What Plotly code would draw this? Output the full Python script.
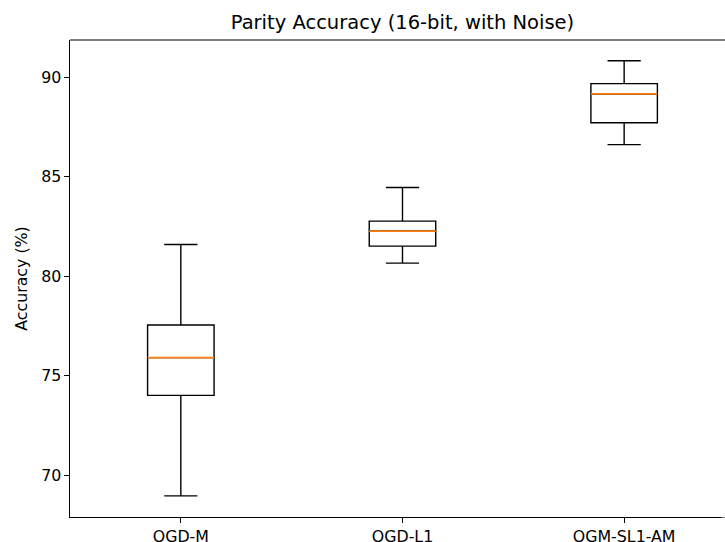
import plotly.graph_objects as go

categories = ["OGD-M", "OGD-L1", "OGM-SL1-AM"]
lower_whisker = [68.95, 80.65, 86.6]
q1 = [74.0, 81.5, 87.7]
median = [75.9, 82.26, 89.15]
q3 = [77.54, 82.76, 89.67]
upper_whisker = [81.58, 84.45, 90.82]
y_ticks = [70, 75, 80, 85, 90]

font = "DejaVu Sans"

fig = go.Figure()
fig.add_trace(go.Box(
    x=categories, q1=q1, median=median, q3=q3,
    lowerfence=lower_whisker, upperfence=upper_whisker,
    width=0.3, whiskerwidth=0.5,
    line=dict(color="black", width=1.4),
    fillcolor="rgba(0,0,0,0)",
    boxpoints=False, showlegend=False, hoverinfo="skip",
))
fig.add_trace(go.Box(
    x=categories, q1=median, median=median, q3=median,
    lowerfence=median, upperfence=median,
    width=0.3, whiskerwidth=0,
    line=dict(color="#ff7f0e", width=1.8),
    fillcolor="rgba(0,0,0,0)",
    boxpoints=False, showlegend=False, hoverinfo="skip",
))

fig.update_layout(
    width=725, height=542,
    margin=dict(l=70, r=0, t=40, b=25, autoexpand=False),
    paper_bgcolor="white", plot_bgcolor="white",
    boxmode="overlay",
    font=dict(family=font, size=15.8, color="black"),
    title=dict(text="Parity Accuracy (16-bit, with Noise)", x=(402.5 - 70) / 655,
               xanchor="center", xref="paper", y=1 - 22 / 542, yanchor="middle",
               font=dict(family=font, size=19.5, color="black"), automargin=False),
)
# mask the right edge of the plot area (the right spine lies outside the reference image)
fig.add_shape(type="rect", xref="paper", yref="paper", x0=0.9945, x1=1.01, y0=-0.001, y1=0.999,
              line=dict(width=0), fillcolor="white", layer="above")
# top spine
fig.add_shape(type="line", xref="paper", yref="paper", x0=0, x1=1, y0=1, y1=1,
              line=dict(color="black", width=1.2))
fig.update_xaxes(
    type="category", range=[-0.5, 2.455], automargin=False,
    showline=True, linecolor="black", linewidth=1.2, mirror=False,
    ticks="outside", ticklen=4.5, tickcolor="black", showgrid=False, zeroline=False,
)
fig.update_yaxes(
    range=[67.89, 91.86], tickvals=y_ticks, automargin=False,
    showline=True, linecolor="black", linewidth=1.2, mirror=False,
    ticks="outside", ticklen=4.5, tickcolor="black", showgrid=False, zeroline=False,
    title=dict(text="Accuracy (%)", standoff=9, font=dict(family=font, size=15.8)),
)

fig.write_html(
    "out.html",
    config={"displayModeBar": False},
    post_script="document.body.style.margin='0';document.body.style.overflow='hidden';",
)
